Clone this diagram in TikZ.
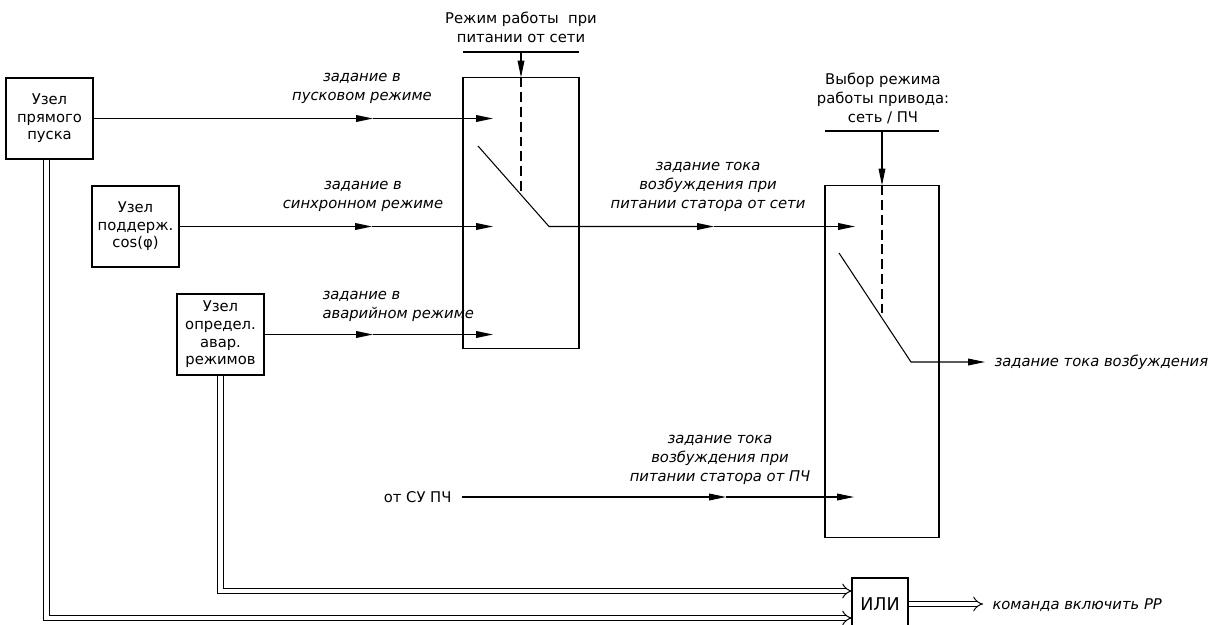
\documentclass[tikz,border=0pt]{standalone}
\usepackage{fontspec}
\setmainfont{DejaVu Sans}
\usetikzlibrary{arrows.meta, positioning}

\begin{document}
\begin{tikzpicture}[
    x=0.025cm, y=-0.025cm,
    >={Triangle[length=12pt,width=4.8pt]}, line width=0.75pt,
    every node/.style={font=\fontsize{10.5}{12.5}\selectfont, inner sep=0pt},
    blk/.style={draw, align=center, minimum width=2.175cm, minimum height=2.025cm},
    lbl/.style={font=\fontsize{10.5}{13.5}\selectfont\itshape, align=center},
    ttl/.style={font=\fontsize{10.5}{13.5}\selectfont, align=center},
    ctl/.style={dash pattern=on 7pt off 3.5pt},
    dbl/.style={double, double distance=3pt, line width=0.7pt, -{Implies[length=9pt,width=10pt]}}
]
    \useasboundingbox (0,0) rectangle (1225,625);

    % left blocks
    \node[blk] (pusk) at (49.5,118.5) {Узел\\прямого\\пуска};
    \node[blk] (cosphi) at (135.5,226.5) {Узел\\поддерж.\\cos(φ)};
    \node[blk] (avar) at (220.5,334.5) {Узел\\определ.\\авар.\\режимов};

    % switches and OR
    \node[draw, minimum width=2.9cm, minimum height=6.75cm] (sw1) at (521,213) {};
    \node[draw, minimum width=2.85cm, minimum height=8.775cm] (sw2) at (882,361.5) {};
    \node[draw, minimum width=1.4cm, minimum height=1.3cm, font=\fontsize{12.5}{14}\selectfont] (ili) at (880,604) {ИЛИ};

    % control inputs
    \node[ttl] (mode1) at (521,27) {Режим работы\ \ при\\питании от сети};
    \node[ttl] (mode2) at (883,98) {Выбор режима\\работы привода:\\сеть / ПЧ};
    \coordinate (bar1l) at (463,52);
    \coordinate (bar1r) at (579,52);
    \coordinate (bar2l) at (825,131);
    \coordinate (bar2r) at (939,131);
    \draw (bar1l) -- (bar1r);
    \draw (bar2l) -- (bar2r);
    \draw[->] (sw1.north |- bar1l) -- (sw1.north);
    \draw[->] (sw2.north |- bar2l) -- (sw2.north);

    % switch 1
    \coordinate (m1) at (373,118.5);
    \coordinate (in1) at (493,118.5);
    \coordinate (m2) at (372,226.5);
    \coordinate (in2) at (493,226.5);
    \coordinate (m3) at (373,334.5);
    \coordinate (in3) at (493,334.5);
    \coordinate (k1) at (478,146);
    \coordinate (p1) at (549,226.5);
    \coordinate (d1) at (521,195);
    \draw[->] (pusk) -- (m1);
    \draw[->] (m1) -- (in1);
    \draw[->] (cosphi) -- (m2);
    \draw[->] (m2) -- (in2);
    \draw[->] (avar) -- (m3);
    \draw[->] (m3) -- (in3);
    \draw[ctl] (sw1.north) -- (d1);
    \node[lbl] (lpusk) at (362,88) {задание в\\пусковом режиме};
    \node[lbl] (lsync) at (363,196) {задание в\\синхронном режиме};
    \node[lbl, align=left, anchor=west] (lavar) at (322,306) {задание в\\аварийном режиме};

    % switch 2
    \coordinate (m4) at (714,226.5);
    \coordinate (in4) at (855,226.5);
    \coordinate (m5) at (726,497);
    \coordinate (in5) at (854,497);
    \coordinate (k2) at (839,253);
    \coordinate (p2) at (911,362);
    \coordinate (d2) at (882,318);
    \coordinate (out2) at (985,362);
    \draw[->] (k1) -- (p1) -- (m4);
    \draw[->] (m4) -- (in4);
    \node[anchor=east] (supch) at (452,497) {от СУ ПЧ};
    \draw[->] ([xshift=0.25cm]supch.east) -- (m5);
    \draw[->] (m5) -- (in5);
    \draw[ctl] (sw2.north) -- (d2);
    \draw[->] (k2) -- (p2) -- (out2);
    \node[lbl] (lseti) at (708,187) {задание тока\\возбуждения при\\питании статора от сети};
    \node[lbl] (lpch) at (720,460) {задание тока\\возбуждения при\\питании статора от ПЧ};
    \node[lbl, anchor=west] (lout) at (994,362) {задание тока возбуждения};

    % OR inputs and output
    \coordinate (ili1) at (852,591);
    \coordinate (ili2) at (852,618);
    \coordinate (out3) at (983,604);
    \draw[dbl] (avar.south) |- (ili1);
    \draw[dbl] ([xshift=-0.075cm]pusk.south) |- (ili2);
    \draw[dbl] (ili.east) -- (out3);
    \node[lbl, anchor=west] (lcmd) at (992,605) {команда включить РР};
\end{tikzpicture}
\end{document}
